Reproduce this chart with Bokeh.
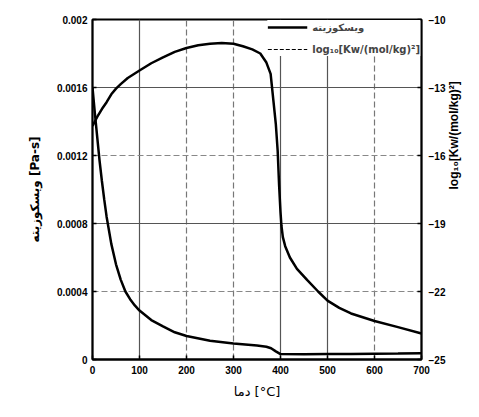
import math
from bokeh.plotting import figure
from bokeh.models import (Range1d, LinearAxis, FixedTicker, Grid, Legend, LegendItem)
from bokeh.embed import file_html
from bokeh.resources import INLINE

# ---- data ----
visc_T = [0, 5, 10, 15, 20, 25, 30, 40, 50, 60, 70, 80, 90, 100, 125, 150, 175, 200,
          250, 300, 350, 370, 380, 390, 400, 450, 500, 550, 600, 650, 700]
visc_val = [0.00160, 0.00145, 0.00131, 0.00117, 0.00105, 0.00094, 0.00084, 0.00068,
            0.00056, 0.00047, 0.00040, 0.000355, 0.000318, 0.000288, 0.000232, 0.000195,
            0.000160, 0.000138, 0.000110, 0.000094, 0.000082, 0.000075, 0.000066,
            0.000048, 0.000032, 0.000031, 0.000032, 0.000033, 0.000034, 0.000035, 0.000037]

logkw_T = [0, 5, 10, 20, 30, 40, 50, 60, 75, 100, 125, 150, 175, 200, 225, 250, 275,
           300, 320, 340, 357, 370, 379, 385, 390, 394, 397, 400, 402, 405, 410, 420,
           435, 457, 480, 500, 525, 550, 600, 650, 700]
logkw_val = [-14.7, -14.5, -14.3, -13.95, -13.65, -13.3, -13.05, -12.85, -12.58, -12.25,
             -11.93, -11.67, -11.43, -11.26, -11.14, -11.07, -11.04, -11.07, -11.18,
             -11.32, -11.5, -11.9, -12.4, -13.6, -14.6, -15.8, -17.3, -18.5, -19.1,
             -19.6, -20.0, -20.5, -21.0, -21.5, -22.0, -22.4, -22.72, -22.97, -23.3,
             -23.57, -23.85]

x_ticks = [0, 100, 200, 300, 400, 500, 600, 700]
left_ticks = [0, 0.0004, 0.0008, 0.0012, 0.0016, 0.002]
left_labels = ["0", "0.0004", "0.0008", "0.0012", "0.0016", "0.002"]
right_ticks = [-25, -22, -19, -16, -13, -10]

legend_labels = ["ویسکوزیته", "log₁₀[Kw/(mol/kg)²]"]
x_label = "دما [°C]"
left_label = "ویسکوزیته [Pa-s]"
right_label = "log₁₀[Kw/(mol/kg)²]"

FONT = "Liberation Sans"
AFONT = "DejaVu Sans"

p = figure(width=471, height=401, output_backend="svg", toolbar_location=None,
           x_range=Range1d(0, 700), y_range=Range1d(0, 0.002),
           min_border_left=92, min_border_right=48, min_border_top=19, min_border_bottom=42)
p.extra_y_ranges = {"kw": Range1d(-25, -10)}

p.outline_line_color = "black"
p.outline_line_width = 1.8
p.outline_line_alpha = 1.0
p.background_fill_color = "white"
p.border_fill_color = "white"

p.xgrid.visible = False
p.ygrid.visible = False
p.add_layout(Grid(dimension=0, ticker=FixedTicker(ticks=[100, 400, 500]),
                  grid_line_color="#555555", grid_line_width=1.2))
p.add_layout(Grid(dimension=0, ticker=FixedTicker(ticks=[200, 300, 600]),
                  grid_line_color="#777777", grid_line_width=1.2, grid_line_dash="6 3"))
p.add_layout(Grid(dimension=1, ticker=FixedTicker(ticks=[0.0008, 0.0016]),
                  grid_line_color="#555555", grid_line_width=1.2))
p.add_layout(Grid(dimension=1, ticker=FixedTicker(ticks=[0.0004, 0.0012]),
                  grid_line_color="#888888", grid_line_width=1.2, grid_line_dash="6 3"))

def style_axis(ax):
    ax.axis_line_color = "black"
    ax.axis_line_width = 1.8
    ax.major_tick_line_color = "black"
    ax.major_tick_line_width = 1.5
    ax.major_tick_in = 4
    ax.major_tick_out = 0
    ax.minor_tick_line_color = None
    ax.major_label_text_font = FONT
    ax.major_label_text_font_style = "bold"
    ax.major_label_text_font_size = "10px"
    ax.major_label_text_color = "black"
    ax.axis_label_text_font_style = "bold"
    ax.axis_label_text_color = "black"

p.xaxis.ticker = FixedTicker(ticks=x_ticks)
p.yaxis.ticker = FixedTicker(ticks=left_ticks)
p.yaxis.major_label_overrides = {t: l for t, l in zip(left_ticks, left_labels)}
style_axis(p.xaxis[0])
style_axis(p.yaxis[0])
p.xaxis.major_label_standoff = 6
p.xaxis.axis_label = x_label
p.xaxis.axis_label_text_font = AFONT
p.xaxis.axis_label_text_font_size = "13px"
p.xaxis.axis_label_text_font_style = "normal"
p.xaxis.axis_label_standoff = 7
p.yaxis.axis_label = left_label
p.yaxis.axis_label_text_font = AFONT
p.yaxis.axis_label_text_font_size = "12px"
p.yaxis.axis_label_standoff = 12

rax = LinearAxis(y_range_name="kw", ticker=FixedTicker(ticks=right_ticks),
                 axis_label=right_label)
style_axis(rax)
rax.major_label_standoff = 7
rax.axis_label_text_font = FONT
rax.axis_label_text_font_size = "12px"
rax.axis_label_standoff = 6
if "axis_label_orientation" in rax.properties():
    rax.axis_label_orientation = math.pi / 2
p.add_layout(rax, "right")

# curves
r1 = p.line(visc_T, visc_val, line_color="black", line_width=2.5)
r2 = p.line(logkw_T, logkw_val, y_range_name="kw", line_color="black", line_width=2.5)

# legend sample renderer for the dashed entry (no visible data)
d2 = p.line([float("nan")], [float("nan")], line_color="black", line_width=1.2,
            line_dash="4 2")
legend = Legend(items=[LegendItem(label=legend_labels[0], renderers=[r1]),
                       LegendItem(label=legend_labels[1], renderers=[d2])],
                location="top_right", background_fill_color="white",
                background_fill_alpha=1.0, border_line_color=None,
                label_text_font=AFONT, label_text_font_size="10px",
                label_text_font_style="bold",
                glyph_width=40, glyph_height=14, label_height=14,
                spacing=8, padding=2, margin=1)
p.add_layout(legend)

open("out.html", "w").write(file_html(p, INLINE))
